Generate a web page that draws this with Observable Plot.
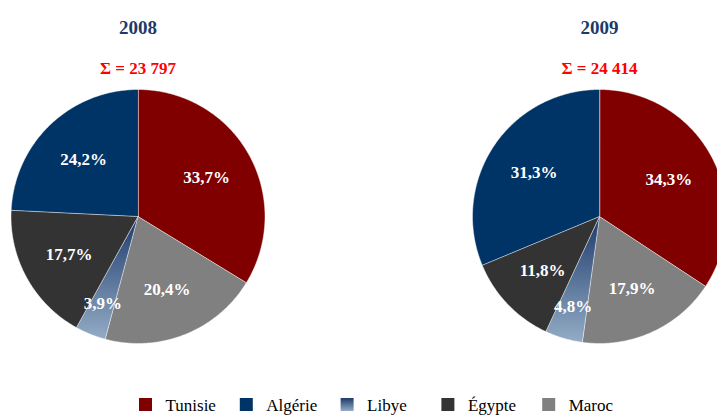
<!DOCTYPE html>
<html><head><meta charset="utf-8">
<script src="https://cdn.jsdelivr.net/npm/d3@7"></script>
<script src="https://cdn.jsdelivr.net/npm/@observablehq/plot@0.6"></script>
<style>
html,body{margin:0;padding:0;background:#fff;overflow:hidden}
svg{overflow:hidden;display:block}
svg text{font-family:"Liberation Serif","Times New Roman",serif !important}
</style>
</head><body><div id="chart"></div>
<script>
// ---- data ----
const categories = ["Tunisie", "Algérie", "Libye", "Égypte", "Maroc"];
const pieOrder = ["Tunisie", "Maroc", "Libye", "Égypte", "Algérie"];
const years = ["2008", "2009"];
const totals = [23797, 24414];
const share2008 = [33.7, 24.2, 3.9, 17.7, 20.4];
const share2009 = [34.3, 31.3, 4.8, 11.8, 17.9];

// ---- styles / layout ----
const colors = ["#800000", "#003366", "url(#libyeGrad)", "#333333", "#808080"];
const W = 717, H = 417;
const centersX = [137.5, 599], centerY = 216, R = 127;
const serif = "Liberation Serif";

const shares = [share2008, share2009];
const slicePts = [], labels = [], heads = [];
years.forEach((yr, i) => {
  const cx = centersX[i];
  const vals = pieOrder.map(c => shares[i][categories.indexOf(c)]);
  const arcs = d3.pie().sort(null).value(d => d)(vals);
  arcs.forEach((a, j) => {
    const cat = pieOrder[j], key = yr + cat;
    slicePts.push({key, cat, x: cx, y: centerY});
    const n = Math.max(2, Math.ceil((a.endAngle - a.startAngle) / 0.01));
    for (let k = 0; k <= n; k++) {
      const t = a.startAngle + (a.endAngle - a.startAngle) * k / n;
      slicePts.push({key, cat, x: cx + R * Math.sin(t), y: centerY - R * Math.cos(t)});
    }
    const m = (a.startAngle + a.endAngle) / 2;
    const lr = R * ((a.endAngle - a.startAngle) < 0.4 ? 0.74 : 0.62);
    labels.push({x: cx + lr * Math.sin(m), y: centerY - lr * Math.cos(m),
      text: d3.format(".1f")(a.data).replace(".", ",") + "%"});
  });
  heads.push({x: cx, year: yr, total: "Σ = " + d3.format(",")(totals[i]).replace(/,/g, " ")});
});

const legendStep = 100.8, legendX0 = 139, sq = 13, legendY = 398;
const legend = categories.map((c, i) => ({cat: c, x: legendX0 + i * legendStep}));

const plot = Plot.plot({
  width: W, height: H, margin: 0,
  x: {domain: [0, W], range: [0, W], axis: null},
  y: {domain: [0, H], range: [0, H], axis: null},
  color: {domain: categories, range: colors},
  style: {background: "#fff", overflow: "hidden", fontFamily: "Liberation Serif, serif"},
  marks: [
    Plot.line(slicePts, {x: "x", y: "y", z: "key", fill: "cat", stroke: "#ffffff",
      strokeWidth: 0.6, strokeOpacity: 0.8, curve: "linear-closed"}),
    Plot.text(labels, {x: "x", y: "y", text: "text", fill: "white", fontWeight: "bold",
      fontSize: 17, fontFamily: serif}),
    Plot.text(heads, {x: "x", y: () => 27, text: "year", fill: "#1b3a6b", fontWeight: "bold",
      fontSize: 19, fontFamily: serif}),
    Plot.text(heads, {x: "x", y: () => 68, text: "total", fill: "#ff0000", fontWeight: "bold",
      fontSize: 17, fontFamily: serif}),
    Plot.rect(legend, {x1: "x", x2: d => d.x + sq, y1: () => legendY, y2: () => legendY + sq, fill: "cat"}),
    Plot.text(legend, {x: d => d.x + 26, y: () => legendY + 7.5, text: "cat", textAnchor: "start",
      fill: "#000", fontSize: 17, fontFamily: serif})
  ]
});

const defs = d3.select(plot).insert("defs", ":first-child");
const g = defs.append("linearGradient").attr("id", "libyeGrad")
  .attr("x1", 0).attr("y1", 0).attr("x2", 0).attr("y2", 1);
g.append("stop").attr("offset", "0%").attr("stop-color", "#1d3a6b");
g.append("stop").attr("offset", "100%").attr("stop-color", "#93acc6");

document.getElementById("chart").appendChild(plot);
</script>
</body></html>
